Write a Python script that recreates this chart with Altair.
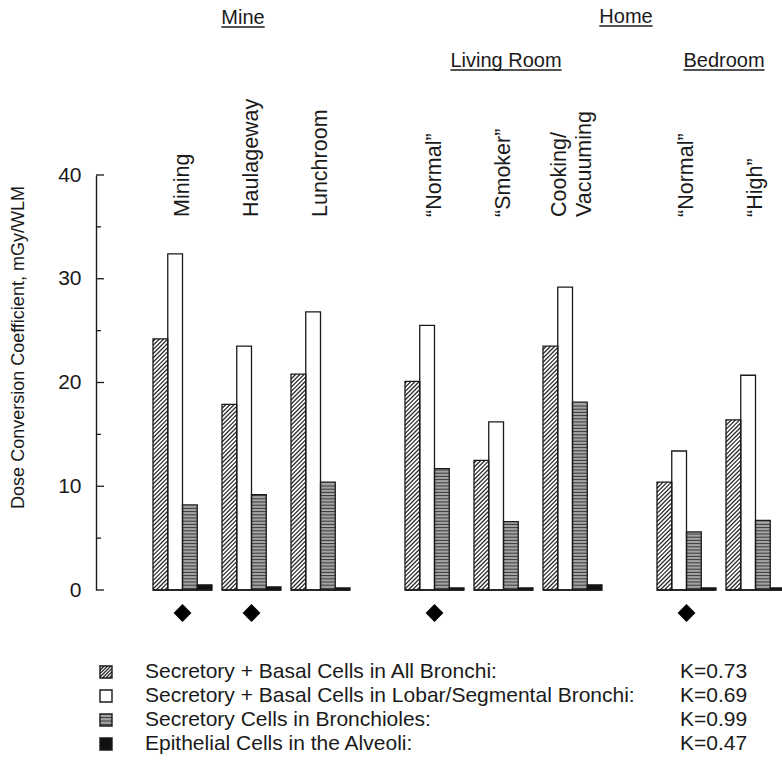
import math

import altair as alt
import pandas as pd

# ---------------------------------------------------------------- data
LOCATIONS = ["Mining", "Haulageway", "Lunchroom",
             "\u201cNormal\u201d", "\u201cSmoker\u201d", "Cooking/\nVacuuming",
             "\u201cNormal\u201d", "\u201cHigh\u201d"]
CLUSTER = [0, 0, 0, 1, 1, 1, 2, 2]          # Mine | Living Room | Bedroom
ALL_BRONCHI = [24.2, 17.9, 20.8, 20.1, 12.5, 23.5, 10.4, 16.4]
LOBAR_SEGMENTAL = [32.4, 23.5, 26.8, 25.5, 16.2, 29.2, 13.4, 20.7]
BRONCHIOLES = [8.2, 9.2, 10.4, 11.7, 6.6, 18.1, 5.6, 6.7]
ALVEOLI = [0.5, 0.3, 0.2, 0.2, 0.2, 0.5, 0.2, 0.2]
MARKED = [True, True, False, True, False, False, True, False]

SERIES = ["Secretory + Basal Cells in All Bronchi:",
          "Secretory + Basal Cells in Lobar/Segmental Bronchi:",
          "Secretory Cells in Bronchioles:",
          "Epithelial Cells in the Alveoli:"]
K_FACTORS = ["K=0.73", "K=0.69", "K=0.99", "K=0.47"]
HEADERS = ["Mine", "Home", "Living Room", "Bedroom"]
Y_TICKS = [0, 10, 20, 30, 40]
Y_MINOR = [5, 15, 25, 35]
Y_TITLE = "Dose Conversion Coefficient, mGy/WLM"

# ---------------------------------------------------------------- layout
W, H = 686, 415                 # plot area in px; x data units are px
Y_MAX = 40
PX_Y = H / Y_MAX                # px per y unit
BAR_W = 14.75
GROUP_STEP = 69
CLUSTER_GAP = 45
FIRST_X = 57
FONT = "Liberation Sans"
INK = "#1a1a1a"
LABEL_FS = 21.5
LABEL_LH = 25


def y_from_px(px_below_top):
    """Data value at a pixel offset measured down from the plot's top edge."""
    return Y_MAX - px_below_top / PX_Y


def group_left(i):
    return FIRST_X + i * GROUP_STEP + CLUSTER[i] * CLUSTER_GAP


def diag_hatch(x0, x1, lo, hi, step=4.2):
    """'/' hatch segments clipped to a rectangle (x in px, y in data units)."""
    w, h = x1 - x0, (hi - lo) * PX_Y
    segs = []
    for k in range(math.floor(-w / step) - 1, math.ceil(h / step) + 1):
        b = k * step + 1.0
        ua, ub = max(0.0, -b), min(w, h - b)
        if ub - ua > 0.4:
            segs.append(dict(x=x0 + ua, x2=x0 + ub,
                             y=lo + (ua + b) / PX_Y, y2=lo + (ub + b) / PX_Y))
    return segs


def horiz_lines(x0, x1, lo, hi, step=3.2):
    segs = []
    t = 1.6
    h = (hi - lo) * PX_Y
    while t < h - 0.8:
        segs.append(dict(x=x0, x2=x1, y=lo + t / PX_Y, y2=lo + t / PX_Y))
        t += step
    return segs


# ---------------------------------------------------------------- tables
values_by_series = [ALL_BRONCHI, LOBAR_SEGMENTAL, BRONCHIOLES, ALVEOLI]
FILLS = ["#ffffff", "#ffffff", "#a3a3a3", "#111111"]

bar_rows, hatch_rows, hline_rows = [], [], []
for i in range(len(LOCATIONS)):
    gx = group_left(i)
    for s, vals in enumerate(values_by_series):
        x0, x1 = gx + s * BAR_W, gx + (s + 1) * BAR_W
        v = vals[i]
        bar_rows.append(dict(x=x0, x2=x1, y=0.0, y2=v, series=SERIES[s]))
        if s == 0:
            hatch_rows += diag_hatch(x0, x1, 0.0, v)
        elif s == 2:
            hline_rows += horiz_lines(x0, x1, 0.0, v)

bars = pd.DataFrame(bar_rows)

centers = [group_left(i) + 2 * BAR_W for i in range(len(LOCATIONS))]
n_lines = [lab.count("\n") + 1 for lab in LOCATIONS]
groups = pd.DataFrame(dict(
    x=[group_left(i) for i in range(len(LOCATIONS))],
    x2=[group_left(i) + 4 * BAR_W for i in range(len(LOCATIONS))],
    center=centers,
    # multi-line labels: first line sits at the anchor, so shift the block
    label_x=[c - (n - 1) * LABEL_LH / 2 for c, n in zip(centers, n_lines)],
    label=LOCATIONS,
    marked=MARKED,
))
groups["y"] = 0.0
groups["label_y"] = y_from_px(42)
groups["mark_y"] = y_from_px(438)
diamonds = groups[groups["marked"]]

# legend: icons, labels, K factors
LEG_ICON_X = (4, 16)
LEG_TEXT_X = 49
LEG_K_X = 584
leg_rows = []
for r, name in enumerate(SERIES):
    cy = y_from_px(497 + 24 * r)
    half = 6 / PX_Y
    lo, hi = cy - half, cy + half
    leg_rows.append(dict(x=LEG_ICON_X[0], x2=LEG_ICON_X[1], y=lo, y2=hi,
                         series=name, label=name, k=K_FACTORS[r], cy=cy,
                         lx=LEG_TEXT_X, kx=LEG_K_X))
    if r == 0:
        hatch_rows += diag_hatch(LEG_ICON_X[0], LEG_ICON_X[1], lo, hi, step=3.4)
    elif r == 2:
        hline_rows += horiz_lines(LEG_ICON_X[0], LEG_ICON_X[1], lo, hi, step=3.4)
legend = pd.DataFrame(leg_rows)

hatch = pd.DataFrame(hatch_rows)
hlines = pd.DataFrame(hline_rows)

# headers with underlines
HEADER_X = [147, 530, 410, 628]
HEADER_Y_PX = [-157, -158, -114, -114]
HEADER_FS = 20
CHAR_W = {"M": .833, "i": .222, "n": .556, "e": .556, "H": .722, "o": .556,
          "m": .833, "L": .556, "v": .5, "g": .556, " ": .278, "R": .722,
          "B": .667, "d": .556, "r": .333}
head_rows = []
for t, hx, hy in zip(HEADERS, HEADER_X, HEADER_Y_PX):
    tw = sum(CHAR_W.get(c, .55) for c in t) * HEADER_FS
    head_rows.append(dict(text=t, x=hx, y=y_from_px(hy),
                          ux=hx - tw / 2, ux2=hx + tw / 2,
                          uy=y_from_px(hy + 9)))
heads = pd.DataFrame(head_rows)

ticks = pd.DataFrame(dict(v=Y_TICKS + Y_MINOR,
                          x0=[0] * (len(Y_TICKS) + len(Y_MINOR)),
                          len=[8] * len(Y_TICKS) + [5] * len(Y_MINOR)))

# ---------------------------------------------------------------- chart
XS = alt.Scale(domain=[0, W], nice=False, zero=False)
YS = alt.Scale(domain=[0, Y_MAX], nice=False, zero=False)

Y_AXIS = alt.Axis(values=Y_TICKS, ticks=False, grid=False, domain=True,
                  domainColor=INK, domainWidth=1.4,
                  labelFont=FONT, labelFontSize=21, labelColor=INK,
                  labelPadding=15,
                  title=Y_TITLE, titleFont=FONT, titleFontSize=18,
                  titleFontWeight="normal", titleColor=INK,
                  titleAngle=270, titleX=-78, titleY=172,
                  titleAlign="center", titleBaseline="middle")


def X(f="x"):
    return alt.X(f"{f}:Q", scale=XS, axis=None)


def Y(f="y"):
    return alt.Y(f"{f}:Q", scale=YS, axis=Y_AXIS)


series_color = alt.Color("series:N", scale=alt.Scale(domain=SERIES, range=FILLS),
                         legend=None)

fill_layer = alt.Chart(bars).mark_rect(strokeWidth=0).encode(
    x=X(), x2="x2", y=Y(), y2="y2", color=series_color)

legend_fill = alt.Chart(legend).mark_rect(strokeWidth=0).encode(
    x=X(), x2="x2", y=Y(), y2="y2", color=series_color)

hatch_layer = alt.Chart(hatch).mark_rule(color="#2a2a2a", strokeWidth=1.3).encode(
    x=X(), x2="x2", y=Y(), y2="y2")

hline_layer = alt.Chart(hlines).mark_rule(color="#3a3a3a", strokeWidth=1.0).encode(
    x=X(), x2="x2", y=Y(), y2="y2")

outline = alt.Chart(bars).mark_rect(fillOpacity=0, stroke=INK, strokeWidth=1.3).encode(
    x=X(), x2="x2", y=Y(), y2="y2")

legend_outline = alt.Chart(legend).mark_rect(
    fillOpacity=0, stroke=INK, strokeWidth=1.4).encode(
    x=X(), x2="x2", y=Y(), y2="y2")

baseline = alt.Chart(groups).mark_rule(color=INK, strokeWidth=1.6).encode(
    x=X(), x2="x2", y=Y())

tick_marks = alt.Chart(ticks).mark_rule(color=INK, strokeWidth=1.3).encode(
    x=X("x0"), x2="len:Q", y=Y("v"))

diamond_layer = alt.Chart(diamonds).mark_point(
    shape="diamond", filled=True, color="black", size=320, opacity=1).encode(
    x=X("center"), y=Y("mark_y"))

loc_labels = alt.Chart(groups).mark_text(
    angle=270, align="left", baseline="middle", font=FONT, fontSize=LABEL_FS,
    color=INK, lineBreak="\n", lineHeight=LABEL_LH).encode(
    x=X("label_x"), y=Y("label_y"), text="label:N")

head_text = alt.Chart(heads).mark_text(
    align="center", baseline="middle", font=FONT, fontSize=HEADER_FS,
    color=INK).encode(x=X(), y=Y(), text="text:N")

head_line = alt.Chart(heads).mark_rule(color=INK, strokeWidth=1.4).encode(
    x=X("ux"), x2="ux2", y=Y("uy"))

legend_text = alt.Chart(legend).mark_text(
    align="left", baseline="middle", font=FONT, fontSize=21,
    color=INK).encode(x=X("lx"), y=Y("cy"), text="label:N")

legend_k = alt.Chart(legend).mark_text(
    align="left", baseline="middle", font=FONT, fontSize=21,
    color=INK).encode(x=X("kx"), y=Y("cy"), text="k:N")

chart = alt.layer(
    fill_layer, legend_fill, hatch_layer, hline_layer, outline, legend_outline,
    baseline, tick_marks, diamond_layer, loc_labels, head_text, head_line,
    legend_text, legend_k,
).properties(
    width=W, height=H,
    autosize=alt.AutoSizeParams(type="none"),
    padding={"left": 96, "top": 175, "right": 0, "bottom": 187},
    background="white",
).configure_view(stroke=None)

chart.save("out.html", embed_options={"renderer": "svg", "actions": False})
